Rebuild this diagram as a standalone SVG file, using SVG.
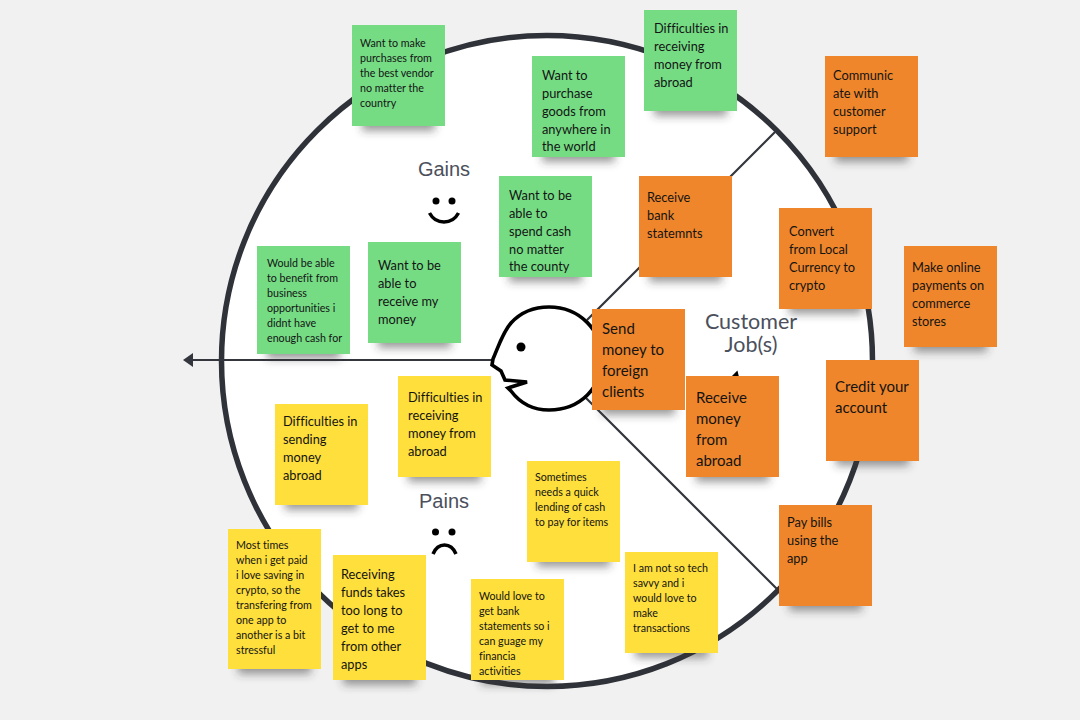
<svg xmlns="http://www.w3.org/2000/svg" width="1080" height="720" viewBox="0 0 1080 720">
<style>
.note{stroke:none}
.g{fill:#75dc84}.o{fill:#ef862b}.y{fill:#fedf3c}
.sh{fill:#3a3a3a;fill-opacity:.5;filter:url(#blur)}
text{font-family:"Lato","Noto Sans",sans-serif;fill:#141414;font-variant-ligatures:none}
.s{font-size:10.7px}.m{font-size:12.8px}.l{font-size:15px}
.lab{font-family:"Liberation Sans",Arial,sans-serif;font-size:20px;fill:#4b505c;text-anchor:middle}
.lab2{font-family:"Lato",sans-serif;font-size:21.5px;fill:#4b505c;text-anchor:middle}
.ln{fill:none;stroke:#33363d;stroke-width:2.2}
.blk{fill:#fff;stroke:#000;stroke-width:3.6;stroke-linejoin:miter}
</style>
<defs><filter id="blur" x="-30%" y="-30%" width="160%" height="160%"><feGaussianBlur stdDeviation="4"/></filter></defs>
<rect width="1080" height="720" fill="#f1f1f1"/>
<circle cx="547" cy="361" r="325.500" fill="#fff" stroke="#2f3239" stroke-width="5.500"/>
<g id="connectors">
<path class="ln" d="M775 132L587 320M777 589L585 397M493 360H188"/>
<path d="M183 360L193 353V367Z" fill="#33363d"/>
</g>
<g id="customer">
<path class="blk" d="M493 359C499 345 503 332 511 323C521 312 534 307 549 307C580 307 602 331 602 358C602 388 580 410 549 410C533 410 520 403 511 391L508 388L527 382L505 380L501 371L492 365Z"/>
<circle cx="521" cy="347" r="4.500" fill="#000"/>
</g>
<g id="labels">
<text class="lab" x="444" y="176">Gains</text>
<circle cx="436" cy="201" r="3.500" fill="#000"/><circle cx="452" cy="201" r="3.500" fill="#000"/>
<path d="M429.500 213C436 225 452 225 458.500 213" fill="none" stroke="#000" stroke-width="3.500"/>
<text class="lab" x="444" y="508">Pains</text>
<circle cx="435.500" cy="532" r="3.500" fill="#000"/><circle cx="452" cy="532" r="3.500" fill="#000"/>
<path d="M433 554C438 542 451 542 456 554" fill="none" stroke="#000" stroke-width="3.500"/>
<text class="lab2" x="751" y="329">Customer</text>
<text class="lab2" x="751" y="352">Job(s)</text>
<path d="M733 376L737 372L738 376Z" fill="#000" stroke="#000" stroke-width="1.500"/>
</g>
<g id="n1"><rect class="sh" x="362" y="36" width="73" height="95"/><rect class="note g" x="352" y="25" width="93" height="101"/><text class="s"><tspan x="360" y="47">Want to make</tspan><tspan x="360" y="62">purchases from</tspan><tspan x="360" y="77">the best vendor</tspan><tspan x="360" y="92">no matter the</tspan><tspan x="360" y="107">country</tspan></text></g>
<g id="n2"><rect class="sh" x="542" y="67" width="73" height="95"/><rect class="note g" x="532" y="56" width="93" height="101"/><text class="m"><tspan x="542" y="80">Want to</tspan><tspan x="542" y="98">purchase</tspan><tspan x="542" y="116">goods from</tspan><tspan x="542" y="134">anywhere in</tspan><tspan x="542" y="151">the world</tspan></text></g>
<g id="n3"><rect class="sh" x="509" y="187" width="73" height="95"/><rect class="note g" x="499" y="176" width="93" height="101"/><text class="m"><tspan x="509" y="200">Want to be</tspan><tspan x="509" y="218">able to</tspan><tspan x="509" y="236">spend cash</tspan><tspan x="509" y="254">no matter</tspan><tspan x="509" y="271">the county</tspan></text></g>
<g id="n4"><rect class="sh" x="267" y="257" width="73" height="102"/><rect class="note g" x="257" y="246" width="93" height="108"/><text class="s"><tspan x="267" y="267">Would be able</tspan><tspan x="267" y="282">to benefit from</tspan><tspan x="267" y="297">business</tspan><tspan x="267" y="312">opportunities i</tspan><tspan x="267" y="327">didnt have</tspan><tspan x="267" y="342">enough cash for</tspan></text></g>
<g id="n5"><rect class="sh" x="378" y="253" width="73" height="95"/><rect class="note g" x="368" y="242" width="93" height="101"/><text class="m"><tspan x="378" y="270">Want to be</tspan><tspan x="378" y="288">able to</tspan><tspan x="378" y="306">receive my</tspan><tspan x="378" y="324">money</tspan></text></g>
<g id="n6"><rect class="sh" x="654" y="21" width="73" height="95"/><rect class="note g" x="644" y="10" width="93" height="101"/><text class="m"><tspan x="654" y="33">Difficulties in</tspan><tspan x="654" y="51">receiving</tspan><tspan x="654" y="69">money from</tspan><tspan x="654" y="87">abroad</tspan></text></g>
<g id="n7"><rect class="sh" x="835" y="67" width="73" height="95"/><rect class="note o" x="825" y="56" width="93" height="101"/><text class="m"><tspan x="833" y="80">Communic</tspan><tspan x="833" y="98">ate with</tspan><tspan x="833" y="116">customer</tspan><tspan x="833" y="134">support</tspan></text></g>
<g id="n8"><rect class="sh" x="649" y="187" width="73" height="95"/><rect class="note o" x="639" y="176" width="93" height="101"/><text class="m"><tspan x="647" y="202">Receive</tspan><tspan x="647" y="220">bank</tspan><tspan x="647" y="238">statemnts</tspan></text></g>
<g id="n9"><rect class="sh" x="789" y="219" width="73" height="95"/><rect class="note o" x="779" y="208" width="93" height="101"/><text class="m"><tspan x="789" y="236">Convert</tspan><tspan x="789" y="254">from Local</tspan><tspan x="789" y="272">Currency to</tspan><tspan x="789" y="290">crypto</tspan></text></g>
<g id="n10"><rect class="sh" x="914" y="257" width="73" height="95"/><rect class="note o" x="904" y="246" width="93" height="101"/><text class="m"><tspan x="912" y="272">Make online</tspan><tspan x="912" y="290">payments on</tspan><tspan x="912" y="308">commerce</tspan><tspan x="912" y="326">stores</tspan></text></g>
<g id="n11"><rect class="sh" x="602" y="320" width="73" height="95"/><rect class="note o" x="592" y="309" width="93" height="101"/><text class="l"><tspan x="602" y="334">Send</tspan><tspan x="602" y="355">money to</tspan><tspan x="602" y="376">foreign</tspan><tspan x="602" y="397">clients</tspan></text></g>
<g id="n12"><rect class="sh" x="696" y="387" width="73" height="95"/><rect class="note o" x="686" y="376" width="93" height="101"/><text class="l"><tspan x="696" y="403">Receive</tspan><tspan x="696" y="424">money</tspan><tspan x="696" y="445">from</tspan><tspan x="696" y="466">abroad</tspan></text></g>
<g id="n13"><rect class="sh" x="836" y="371" width="73" height="95"/><rect class="note o" x="826" y="360" width="93" height="101"/><text class="l"><tspan x="835" y="392">Credit your</tspan><tspan x="835" y="413">account</tspan></text></g>
<g id="n14"><rect class="sh" x="789" y="516" width="73" height="95"/><rect class="note o" x="779" y="505" width="93" height="101"/><text class="m"><tspan x="787" y="527">Pay bills</tspan><tspan x="787" y="545">using the</tspan><tspan x="787" y="563">app</tspan></text></g>
<g id="n15"><rect class="sh" x="285" y="415" width="73" height="95"/><rect class="note y" x="275" y="404" width="93" height="101"/><text class="m"><tspan x="283" y="426">Difficulties in</tspan><tspan x="283" y="444">sending</tspan><tspan x="283" y="462">money</tspan><tspan x="283" y="480">abroad</tspan></text></g>
<g id="n16"><rect class="sh" x="408" y="387" width="73" height="95"/><rect class="note y" x="398" y="376" width="93" height="101"/><text class="m"><tspan x="408" y="402">Difficulties in</tspan><tspan x="408" y="420">receiving</tspan><tspan x="408" y="438">money from</tspan><tspan x="408" y="456">abroad</tspan></text></g>
<g id="n17"><rect class="sh" x="537" y="472" width="73" height="95"/><rect class="note y" x="527" y="461" width="93" height="101"/><text class="s"><tspan x="535" y="481">Sometimes</tspan><tspan x="535" y="496">needs a quick</tspan><tspan x="535" y="511">lending of cash</tspan><tspan x="535" y="526">to pay for items</tspan></text></g>
<g id="n18"><rect class="sh" x="238" y="540" width="73" height="134"/><rect class="note y" x="228" y="529" width="93" height="140"/><text class="s"><tspan x="236" y="549">Most times</tspan><tspan x="236" y="564">when i get paid</tspan><tspan x="236" y="579">i love saving in</tspan><tspan x="236" y="594">crypto, so the</tspan><tspan x="236" y="609">transfering from</tspan><tspan x="236" y="624">one app to</tspan><tspan x="236" y="639">another is a bit</tspan><tspan x="236" y="654">stressful</tspan></text></g>
<g id="n19"><rect class="sh" x="343" y="566" width="73" height="119"/><rect class="note y" x="333" y="555" width="93" height="125"/><text class="m"><tspan x="341" y="579">Receiving</tspan><tspan x="341" y="597">funds takes</tspan><tspan x="341" y="615">too long to</tspan><tspan x="341" y="633">get to me</tspan><tspan x="341" y="651">from other</tspan><tspan x="341" y="669">apps</tspan></text></g>
<g id="n20"><rect class="sh" x="481" y="590" width="73" height="95"/><rect class="note y" x="471" y="579" width="93" height="101"/><text class="s"><tspan x="479" y="600">Would love to</tspan><tspan x="479" y="615">get bank</tspan><tspan x="479" y="630">statements so i</tspan><tspan x="479" y="645">can guage my</tspan><tspan x="479" y="660">financia</tspan><tspan x="479" y="675">activities</tspan></text></g>
<g id="n21"><rect class="sh" x="635" y="563" width="73" height="95"/><rect class="note y" x="625" y="552" width="93" height="101"/><text class="s"><tspan x="633" y="572">I am not so tech</tspan><tspan x="633" y="587">savvy and i</tspan><tspan x="633" y="602">would love to</tspan><tspan x="633" y="617">make</tspan><tspan x="633" y="632">transactions</tspan></text></g>
</svg>
